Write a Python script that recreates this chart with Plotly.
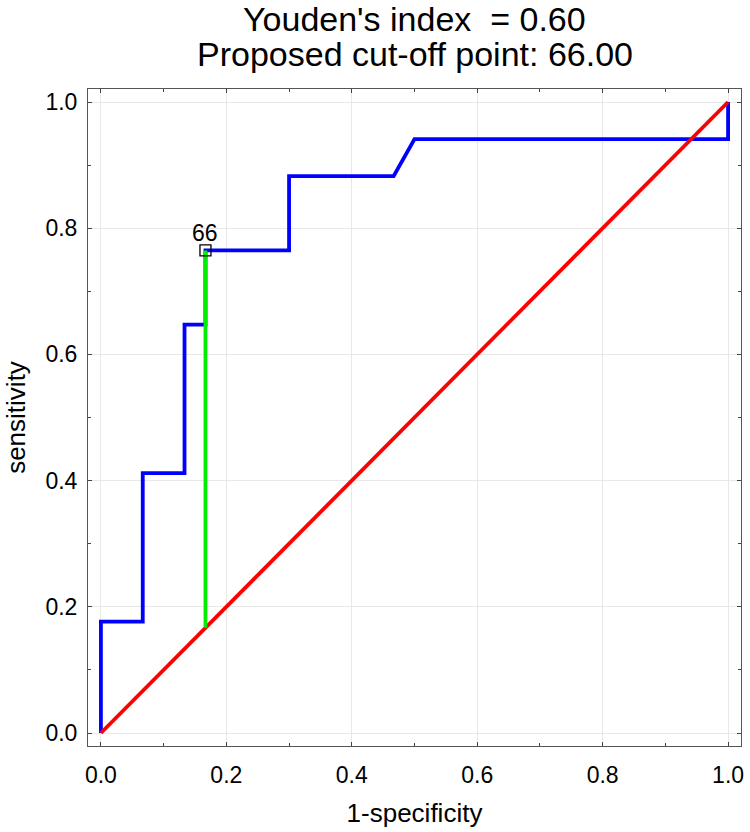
import plotly.graph_objects as go

# ROC curve data (1-specificity, sensitivity)
fpr = [0.0, 0.0, 0.0667, 0.0667, 0.1333, 0.1333, 0.1667, 0.1667, 0.3, 0.3, 0.4667, 0.5, 1.0, 1.0]
tpr = [0.0, 0.1765, 0.1765, 0.4118, 0.4118, 0.6471, 0.6471, 0.7647, 0.7647, 0.8824, 0.8824, 0.9412, 0.9412, 1.0]

# Chance diagonal
diag_x = [0.0, 1.0]
diag_y = [0.0, 1.0]

# Youden index segment
cut_x = [0.1667, 0.1667]
cut_y = [0.1667, 0.7647]
cut_label = "66"

title_line1 = "Youden's index \u00a0= 0.60"
title_line2 = "Proposed cut-off point: 66.00"

tick_vals = [0.0, 0.2, 0.4, 0.6, 0.8, 1.0]
tick_text = ["0.0", "0.2", "0.4", "0.6", "0.8", "1.0"]

FONT = "Liberation Sans, Arial, sans-serif"

fig = go.Figure()
fig.add_trace(go.Scatter(x=fpr, y=tpr, mode="lines",
                         line=dict(color="#0000ff", width=3.8), showlegend=False))
fig.add_trace(go.Scatter(x=diag_x, y=diag_y, mode="lines",
                         line=dict(color="#ff0000", width=3.8), showlegend=False))
fig.add_trace(go.Scatter(x=cut_x, y=cut_y, mode="lines",
                         line=dict(color="#00ee00", width=3.8), showlegend=False))
fig.add_trace(go.Scatter(x=[cut_x[1]], y=[cut_y[1]], mode="markers",
                         marker=dict(symbol="square-open", size=11, color="black",
                                     line=dict(width=1.3, color="black")),
                         showlegend=False))
fig.add_annotation(x=cut_x[1], y=cut_y[1], xref="x", yref="y", text=cut_label,
                   showarrow=False, yanchor="middle", yshift=17,
                   font=dict(size=23, color="black", family=FONT))

axis_common = dict(
    range=[-0.0206, 1.0206],
    tickvals=tick_vals, ticktext=tick_text,
    ticks="inside", ticklen=4, tickwidth=1, tickcolor="#444",
    showline=True, linecolor="#555", linewidth=1, mirror="ticks",
    showgrid=True, gridcolor="#e8e8e8", gridwidth=1,
    zeroline=False,
    tickfont=dict(size=23, color="black", family=FONT),
    minor=dict(dtick=0.1, tick0=0, ticks="inside", ticklen=3, tickcolor="#444", showgrid=False),
)

fig.update_xaxes(**axis_common, ticklabelstandoff=8,
                 title=dict(text="1-specificity", font=dict(size=26, color="black", family=FONT), standoff=17))
fig.update_yaxes(**axis_common, ticklabelstandoff=5,
                 title=dict(text="sensitivity", font=dict(size=26, color="black", family=FONT), standoff=12))

fig.add_annotation(text=title_line1, xref="paper", yref="paper", x=0.5, y=1.0,
                   yshift=70, showarrow=False, yanchor="middle",
                   font=dict(size=34, color="black", family=FONT))
fig.add_annotation(text=title_line2, xref="paper", yref="paper", x=0.5, y=1.0,
                   yshift=35, showarrow=False, yanchor="middle",
                   font=dict(size=34, color="black", family=FONT))

fig.update_layout(
    width=750, height=832,
    margin=dict(l=88, r=6, t=89, b=86),
    plot_bgcolor="white", paper_bgcolor="white",
    font=dict(family=FONT, color="black"),
)

fig.write_html("out.html", config={"displayModeBar": False},
               post_script="document.body.style.margin='0px';")
